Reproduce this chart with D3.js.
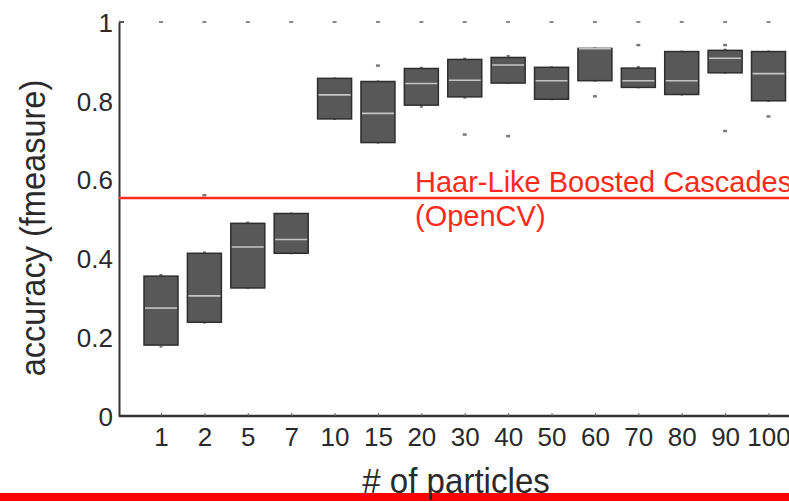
<!DOCTYPE html>
<html>
<head>
<meta charset="utf-8">
<script src="https://cdn.jsdelivr.net/npm/d3@7"></script>
<style>
    body { margin: 0; background: #fff; }
    svg { display: block; font-family: "Liberation Sans", Arial, Helvetica, sans-serif; }
    .axis path, .axis line { stroke: #333; }
    .axis text { fill: #2a2a2a; }
</style>
</head>
<body>
<div id="chart"></div>
<script>
// data
var categories = ["1", "2", "5", "7", "10", "15", "20", "30", "40", "50", "60", "70", "80", "90", "100"];
var q1 =     [0.180, 0.238, 0.325, 0.413, 0.754, 0.694, 0.789, 0.810, 0.845, 0.804, 0.851, 0.834, 0.816, 0.871, 0.800];
var median = [0.274, 0.305, 0.429, 0.448, 0.815, 0.768, 0.844, 0.852, 0.891, 0.851, 0.932, 0.851, 0.851, 0.908, 0.869];
var q3 =     [0.355, 0.413, 0.489, 0.514, 0.857, 0.849, 0.882, 0.905, 0.910, 0.885, 0.933, 0.883, 0.925, 0.928, 0.925];
var whiskerHi = [0.358, 0.415, 0.491, 0.514, 0.857, 0.849, 0.884, 0.907, 0.914, 0.885, 0.933, 0.886, 0.925, 0.930, 0.925];
var whiskerLo = [0.176, 0.237, 0.325, 0.413, 0.754, 0.694, 0.785, 0.808, 0.845, 0.804, 0.851, 0.834, 0.816, 0.871, 0.800];
var outlierCat = ["2", "15", "30", "40", "60", "70", "90", "90", "100"];
var outlierVal = [0.561, 0.890, 0.715, 0.711, 0.812, 0.942, 0.942, 0.724, 0.761];
var yTicks = [0, 0.2, 0.4, 0.6, 0.8, 1];
var baseline = 0.553;
var baselineLabel = ["Haar-Like Boosted Cascades", "(OpenCV)"];

var width = 789, height = 502;

var svg = d3.select("#chart").append("svg")
    .attr("width", width)
    .attr("height", height);

var x = d3.scalePoint().domain(categories).range([161, 768.5]);
var y = d3.scaleLinear().domain([0, 1]).range([416, 22]);
var boxW = 34;

var boxes = categories.map(function (c, i) {
    return {cat: c, q1: q1[i], med: median[i], q3: q3[i], hi: whiskerHi[i], lo: whiskerLo[i]};
});

// little marks along the top at 1.0
svg.selectAll(".top-mark")
    .data(categories)
    .enter().append("rect")
    .attr("class", "top-mark")
    .attr("x", function (d) { return x(d) - 2; })
    .attr("y", y(1) - 1)
    .attr("width", 4)
    .attr("height", 2)
    .style("fill", "#8a8a8a");

// whisker ends
svg.selectAll(".wh")
    .data(boxes)
    .enter().append("rect")
    .attr("class", "wh")
    .attr("x", function (d) { return x(d.cat) - 1.5; })
    .attr("y", function (d) { return y(d.hi) - 1; })
    .attr("width", 3).attr("height", 2)
    .style("fill", "#777");

svg.selectAll(".wl")
    .data(boxes)
    .enter().append("rect")
    .attr("class", "wl")
    .attr("x", function (d) { return x(d.cat) - 1.5; })
    .attr("y", function (d) { return y(d.lo) - 1; })
    .attr("width", 3).attr("height", 2)
    .style("fill", "#777");

// boxes
svg.selectAll(".box")
    .data(boxes)
    .enter().append("rect")
    .attr("class", "box")
    .attr("x", function (d) { return x(d.cat) - boxW / 2; })
    .attr("y", function (d) { return y(d.q3); })
    .attr("width", boxW)
    .attr("height", function (d) { return y(d.q1) - y(d.q3); })
    .style("fill", "#585858")
    .style("stroke", "#2e2e2e")
    .style("stroke-width", 1.5);

svg.selectAll(".median")
    .data(boxes)
    .enter().append("line")
    .attr("class", "median")
    .attr("x1", function (d) { return x(d.cat) - boxW / 2 + 1; })
    .attr("x2", function (d) { return x(d.cat) + boxW / 2 - 1; })
    .attr("y1", function (d) { return y(d.med); })
    .attr("y2", function (d) { return y(d.med); })
    .style("stroke", "#c4c4c4")
    .style("stroke-width", 1.6);

// outliers
svg.selectAll(".outlier")
    .data(outlierCat)
    .enter().append("rect")
    .attr("class", "outlier")
    .attr("x", function (d) { return x(d) - 2; })
    .attr("y", function (d, i) { return y(outlierVal[i]) - 1; })
    .attr("width", 4).attr("height", 2.5)
    .style("fill", "#7a7a7a");

// axes
var yAxis = svg.append("g")
    .attr("class", "axis")
    .attr("transform", "translate(119,0)")
    .call(d3.axisLeft(y).tickValues(yTicks).tickSize(0).tickPadding(6).tickFormat(d3.format("~g")));
yAxis.select(".domain").style("stroke-width", 2);
yAxis.selectAll("text").style("font-size", "26px").attr("dy", "0.36em");
yAxis.append("line")
    .attr("x1", 0).attr("x2", 5)
    .attr("y1", y(1)).attr("y2", y(1))
    .style("stroke", "#555").style("stroke-width", 2);

var xAxis = svg.append("g")
    .attr("class", "axis")
    .attr("transform", "translate(0,416)")
    .call(d3.axisBottom(x).tickSizeInner(-3).tickSizeOuter(0));
xAxis.select(".domain")
    .attr("d", "M119,0H" + width)
    .style("stroke-width", 2.5);
xAxis.selectAll(".tick line").style("stroke", "#666");
xAxis.selectAll("text")
    .style("font-size", "26px")
    .attr("y", 30)
    .attr("dy", 0);

// reference line
svg.append("line")
    .attr("x1", 119).attr("x2", width)
    .attr("y1", y(baseline)).attr("y2", y(baseline))
    .style("stroke", "#ff2a1a")
    .style("stroke-width", 2.5);

svg.selectAll(".ref-label")
    .data(baselineLabel)
    .enter().append("text")
    .attr("class", "ref-label")
    .attr("x", 415)
    .attr("y", function (d, i) { return 192 + i * 34; })
    .style("font-size", "29px")
    .style("fill", "#ff2a1a")
    .text(function (d) { return d; });

// axis titles
svg.append("text")
    .attr("transform", "translate(45,228) rotate(-90) scale(0.93,1)")
    .style("text-anchor", "middle")
    .style("font-size", "35px")
    .style("fill", "#2a2a2a")
    .text("accuracy (fmeasure)");

// red band at the bottom
svg.append("rect")
    .attr("x", 0).attr("y", 493)
    .attr("width", width).attr("height", 8)
    .style("fill", "#ff0000");

svg.append("text")
    .attr("transform", "translate(456,493) scale(0.92,1)")
    .style("text-anchor", "middle")
    .style("font-size", "36px")
    .style("fill", "#2a2a2a")
    .text("# of particles");
</script>
</body>
</html>
